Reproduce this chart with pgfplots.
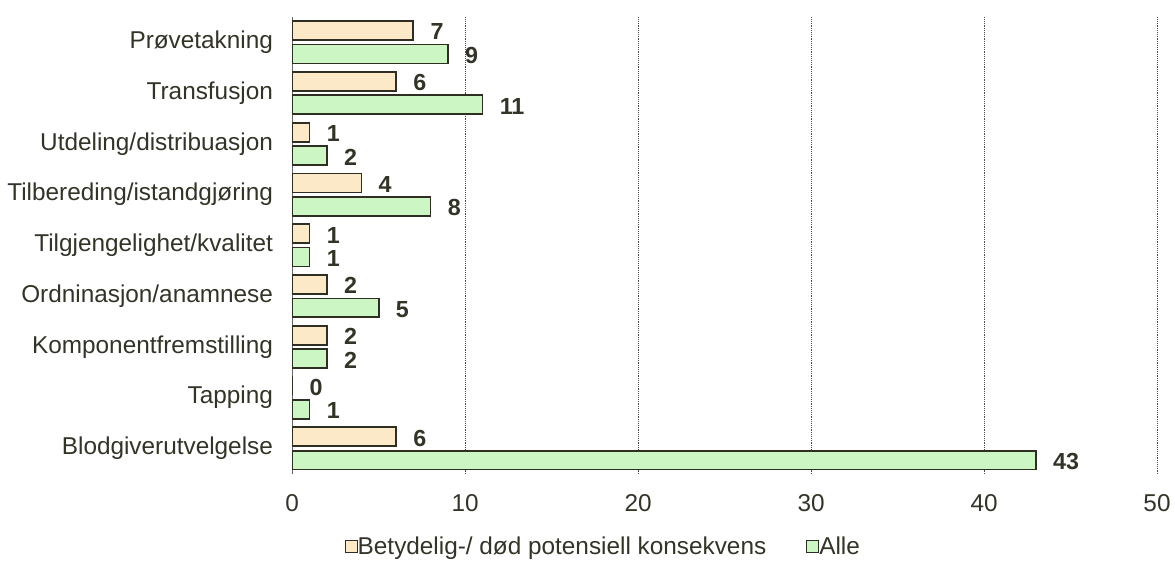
\documentclass[border=0pt]{standalone}
\usepackage{pgfplots}
\pgfplotsset{compat=1.18}
\usepackage{fontspec}
\setmainfont{Liberation Sans}
\definecolor{beige}{HTML}{FCE9C8}
\definecolor{lgreen}{HTML}{CCF7C4}
\definecolor{edge}{HTML}{2E2E22}
\definecolor{txt}{HTML}{333328}
\begin{document}
\begin{tikzpicture}
\begin{axis}[
  scale only axis,
  width=650.25pt, height=343.5pt,
  xbar, 
  xmin=0, xmax=50,
  ymin=-0.5, ymax=8.5,
  xtick={0,10,20,30,40,50},
  ytick={0,1,2,3,4,5,6,7,8},
  yticklabels={Blodgiverutvelgelse,Tapping,Komponentfremstilling,Ordninasjon/anamnese,Tilgjengelighet/kvalitet,Tilbereding/istandgjøring,Utdeling/distribuasjon,Transfusjon,Prøvetakning},
  major tick length=0pt,
  axis y line*=left,
  axis x line*=bottom,
  x axis line style={draw=none},
  y axis line style={draw=gray!80!black, line width=0.9pt},
  xmajorgrids,
  major grid style={densely dotted, draw=black!70, line width=0.7pt},
  /pgf/number format/assume math mode=true,
  ticklabel style={font=\fontsize{18.3}{21}\selectfont, text=txt},
  xticklabel style={yshift=-12pt},
  yticklabel style={xshift=-11pt},
  bar width=14.25pt,
  nodes near coords,
  every node near coord/.append style={font=\fontsize{17.5}{21}\selectfont\bfseries, text=txt, anchor=west, xshift=9pt, yshift=-1pt},
  legend columns=2,
  legend style={draw=none, fill=none, at={(0.36,-0.159)}, anchor=center,
    font=\fontsize{18.3}{21}\selectfont, text=txt,
    /tikz/every even column/.append style={column sep=28pt},
    legend cell align=left, inner sep=0pt},
  legend image code/.code={\draw[#1, line width=0.9pt] (0pt,-4.5pt) rectangle (9pt,4.5pt);},
]
\addplot[fill=beige, draw=edge, line width=1.3pt, bar shift=8.8pt] coordinates {
  (6,0) (0,1) (2,2) (2,3) (1,4) (4,5) (1,6) (6,7) (7,8)};
\addlegendentry{\hspace{-2pt}Betydelig-/ død potensiell konsekvens}
\addplot[fill=lgreen, draw=edge, line width=1.3pt, bar shift=-8.8pt] coordinates {
  (43,0) (1,1) (2,2) (5,3) (1,4) (8,5) (2,6) (11,7) (9,8)};
\addlegendentry{\hspace{-2pt}Alle}
\end{axis}
\path (current axis.south west) ++(-219.75pt,-67.5pt) rectangle ++(881.25pt,423.75pt);
\end{tikzpicture}
\end{document}
